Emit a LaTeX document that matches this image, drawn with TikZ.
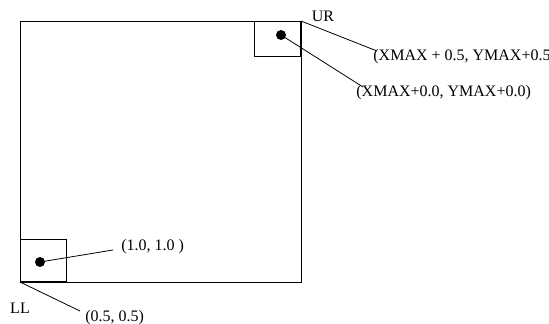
\documentclass[tikz,border=0pt]{standalone}
\usepackage{fontspec}
\setmainfont{Liberation Serif}
\usepackage{tikz}
\usetikzlibrary{calc}
\usetikzlibrary{positioning}

\tikzset{
  dot/.style={circle, fill=black, inner sep=0pt, minimum size=10pt},
  lbl/.style={inner sep=0pt, font=\fontsize{16}{19}\selectfont},
  corner/.style={rectangle, draw=black, line width=0.8pt, inner sep=0pt, minimum width=46pt}
}

\begin{document}
\begin{tikzpicture}[x=1pt, y=-1pt, line width=0.8pt]
\useasboundingbox (0,0) rectangle (549,324);
% the region and its two corners
\coordinate (LLc) at (20,282);
\coordinate (URc) at (301,21);
\draw [line width=1pt] (LLc) rectangle (URc);
\node [corner, minimum height=42pt, anchor=south west] (lowbox) at (LLc) {};
\node [corner, minimum height=35pt, anchor=north east] (upbox) at (URc) {};
\node [dot] (lowdot) at (40,262) {};
\node [dot] (updot) at (281,35) {};
% labels
\node [lbl] (UR) at (323,16) {UR};
\node [lbl] (LL) at (20,308) {LL};
\node [lbl, anchor=west] (urtxt) at (373,57) {(XMAX + 0.5, YMAX+0.5)};
\node [lbl, anchor=west] (dottxt) at (356,93) {(XMAX+0.0, YMAX+0.0)};
\node [lbl, anchor=west] (onetxt) at (121,247) {(1.0, 1.0 )};
\node [lbl, anchor=west] (halftxt) at (85,318) {(0.5, 0.5)};
% leaders
\coordinate (urend) at (377,51);
\coordinate (dotend) at (363,87);
\coordinate (oneend) at (113,250);
\coordinate (halfend) at (80,311);
\draw (upbox.north east) -- (urend);
\draw (updot.center) -- (dotend);
\draw (lowdot.center) -- (oneend);
\draw (lowbox.south west) -- (halfend);
\end{tikzpicture}
\end{document}
